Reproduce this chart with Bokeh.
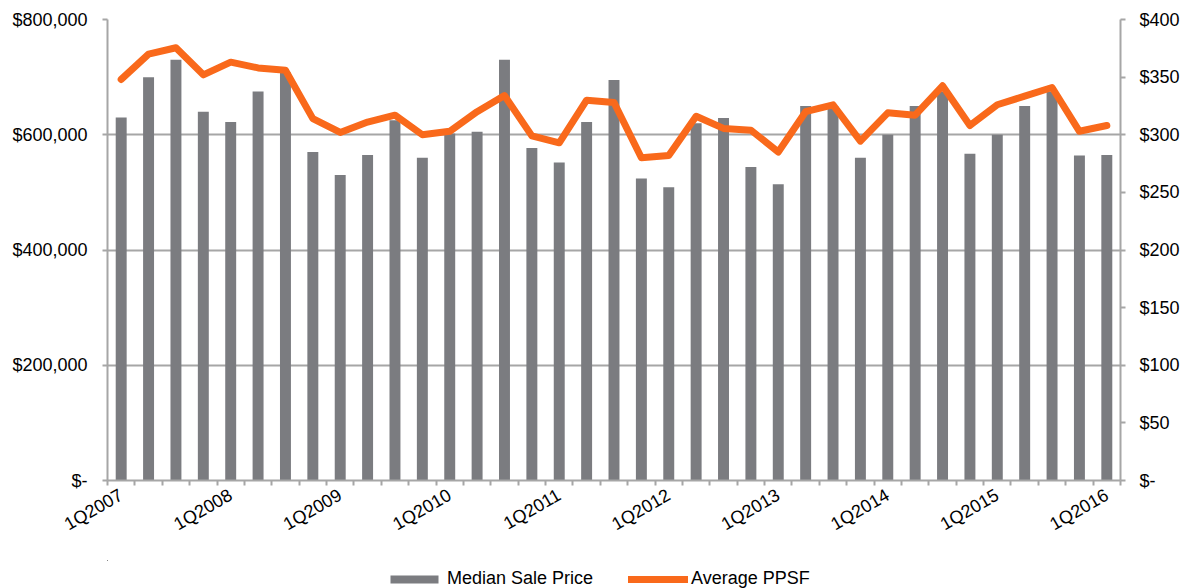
import math
from bokeh.plotting import figure
from bokeh.layouts import column
from bokeh.models import (Range1d, LinearAxis, FixedTicker, Legend, LegendItem,
                          CustomJSTickFormatter)
from bokeh.embed import file_html
from bokeh.resources import INLINE

quarters = ["1Q2007", "2Q2007", "3Q2007", "4Q2007",
            "1Q2008", "2Q2008", "3Q2008", "4Q2008",
            "1Q2009", "2Q2009", "3Q2009", "4Q2009",
            "1Q2010", "2Q2010", "3Q2010", "4Q2010",
            "1Q2011", "2Q2011", "3Q2011", "4Q2011",
            "1Q2012", "2Q2012", "3Q2012", "4Q2012",
            "1Q2013", "2Q2013", "3Q2013", "4Q2013",
            "1Q2014", "2Q2014", "3Q2014", "4Q2014",
            "1Q2015", "2Q2015", "3Q2015", "4Q2015",
            "1Q2016"]

median_sale_price = [630000, 700000, 730000, 640000, 622000, 675000, 708000, 570000,
                     530000, 565000, 625000, 560000, 602000, 605000, 730000, 577000,
                     552000, 622000, 695000, 524000, 509000, 620000, 629000, 544000,
                     514000, 650000, 649000, 560000, 600000, 650000, 675000, 567000,
                     600000, 650000, 675000, 564000, 565000]

average_ppsf = [348, 370, 375.5, 352, 363, 358, 356, 314,
                302, 311, 317, 300, 303, 320, 334, 299,
                293, 330, 328, 280, 282, 316, 305.5, 304,
                285, 320, 326, 294.5, 319, 317, 342.5, 308,
                326, 333.5, 341, 303, 308]

series_names = ["Median Sale Price", "Average PPSF"]

left_ticks = [0, 200000, 400000, 600000, 800000]
right_ticks = [0, 50, 100, 150, 200, 250, 300, 350, 400]

FONT = "Liberation Sans"
GRID = "#A6A6A6"
BAR = "#7B7C80"
ORANGE = "#F9691B"

idx = list(range(len(quarters)))
major_x = [i for i in idx if quarters[i].startswith("1Q")]
minor_x = [i - 0.5 for i in idx] + [len(idx) - 0.5]

p = figure(width=1194, height=560,
           x_range=Range1d(-0.5, len(idx) - 0.5),
           y_range=Range1d(0, 800000),
           output_backend="svg", toolbar_location=None,
           min_border_left=107, min_border_right=74,
           min_border_top=19, min_border_bottom=80)
p.outline_line_color = None
p.background_fill_color = "white"
p.border_fill_color = "white"

p.extra_y_ranges = {"ppsf": Range1d(0, 400)}

bar_style = dict(fill_color=BAR, line_color=None)
line_style = dict(line_color=ORANGE, line_width=7, line_join="round", line_cap="round")

p.vbar(x=idx, top=median_sale_price, width=0.4, **bar_style)
p.line(x=idx, y=average_ppsf, y_range_name="ppsf", **line_style)

# grid
p.xgrid.visible = False
lt = FixedTicker(ticks=left_ticks)
p.ygrid.ticker = lt
p.ygrid.grid_line_color = GRID
p.ygrid.grid_line_width = 2

# left axis
yax = p.yaxis[0]
yax.ticker = lt
yax.formatter = CustomJSTickFormatter(code=r"""
  if (tick == 0) { return '$-'; }
  return '$' + String(Math.round(tick)).replace(/\B(?=(\d{3})+(?!\d))/g, ',');
""")
yax.axis_line_color = GRID
yax.axis_line_width = 2
yax.major_tick_line_color = GRID
yax.major_tick_line_width = 2
yax.major_tick_out = 5
yax.major_tick_in = 0
yax.minor_tick_line_color = None
yax.major_label_standoff = 15
yax.major_label_text_font = FONT
yax.major_label_text_font_size = "18px"
yax.major_label_text_color = "black"

# right axis
rax = LinearAxis(y_range_name="ppsf",
                 ticker=FixedTicker(ticks=right_ticks),
                 formatter=CustomJSTickFormatter(code="return tick == 0 ? '$-' : '$' + tick;"))
rax.axis_line_color = GRID
rax.axis_line_width = 2
rax.major_tick_line_color = GRID
rax.major_tick_line_width = 2
rax.major_tick_out = 5
rax.major_tick_in = 0
rax.minor_tick_line_color = None
rax.major_label_standoff = 14
rax.major_label_text_font = FONT
rax.major_label_text_font_size = "18px"
rax.major_label_text_color = "black"
p.add_layout(rax, "right")

# bottom axis
xax = p.xaxis[0]
xax.ticker = FixedTicker(ticks=major_x, minor_ticks=minor_x)
xax.major_label_overrides = {i: quarters[i] for i in major_x}
xax.major_label_orientation = math.pi / 6
xax.axis_line_color = GRID
xax.axis_line_width = 2
xax.major_tick_line_color = None
xax.major_tick_out = 0
xax.major_tick_in = 0
xax.minor_tick_line_color = GRID
xax.minor_tick_line_width = 2
xax.minor_tick_out = 5
xax.minor_tick_in = 0
xax.major_label_standoff = 8
xax.major_label_text_font = FONT
xax.major_label_text_font_size = "18px"
xax.major_label_text_color = "black"

# legend strip below the chart: same series, same styles, drawn outside its
# visible range so that only the legend entries show
pl = figure(width=1194, height=28,
            x_range=Range1d(100, 101), y_range=Range1d(-10, -9),
            x_axis_type=None, y_axis_type=None,
            output_backend="svg", toolbar_location=None, min_border=0)
pl.outline_line_color = None
pl.xgrid.visible = False
pl.ygrid.visible = False
lb = pl.vbar(x=idx, top=median_sale_price, width=0.4, **bar_style)
ll = pl.line(x=idx, y=average_ppsf, **line_style)

legend = Legend(items=[LegendItem(label=series_names[0], renderers=[lb]),
                       LegendItem(label=series_names[1], renderers=[ll])],
                orientation="horizontal", location=(277, -1),
                padding=0, margin=0, spacing=35, label_standoff=3,
                glyph_width=60, glyph_height=10,
                label_text_font=FONT, label_text_font_size="18px",
                label_text_color="black",
                border_line_color=None, background_fill_alpha=0)
pl.add_layout(legend, "center")

layout = column(p, pl, spacing=0)
open("out.html", "w").write(file_html(layout, INLINE))
